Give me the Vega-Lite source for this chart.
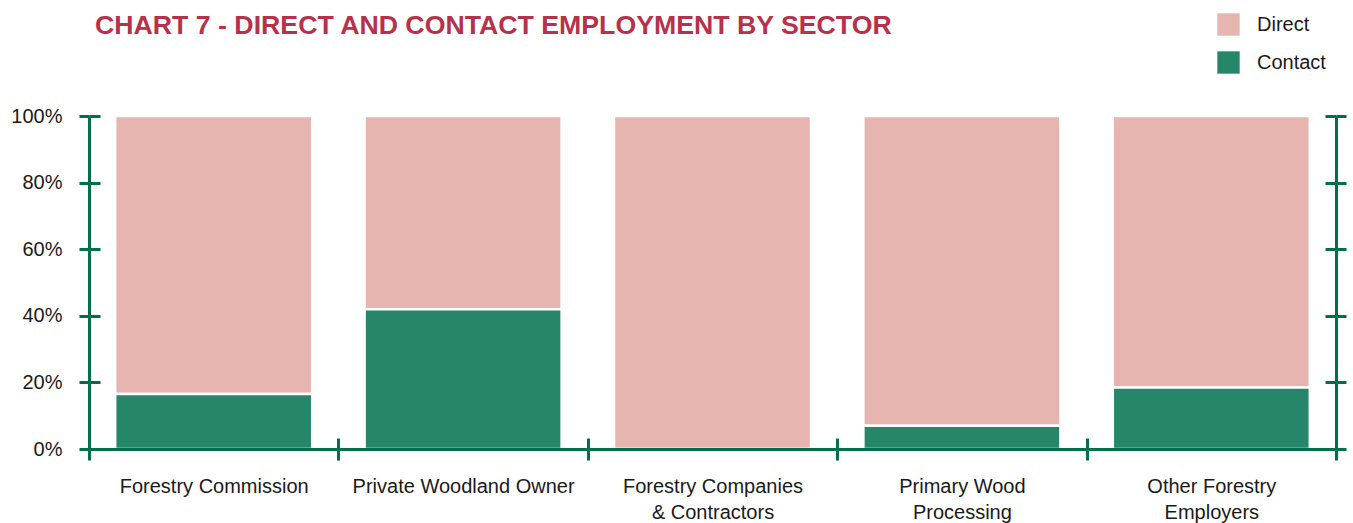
{
  "$schema": "https://vega.github.io/schema/vega-lite/v6.json",
  "autosize": "none",
  "padding": {"left": 89, "top": 116, "right": 17, "bottom": 74},
  "width": 1247,
  "height": 333,
  "background": "white",
  "title": {
    "text": "CHART 7 - DIRECT AND CONTACT EMPLOYMENT BY SECTOR",
    "anchor": "start",
    "frame": "group",
    "dx": 6,
    "dy": 25,
    "offset": -23,
    "baseline": "alphabetic",
    "font": "Liberation Sans",
    "fontSize": 26.7,
    "fontWeight": "bold",
    "color": "#b8314b"
  },
  "config": {
    "view": {"stroke": null},
    "axis": {
      "labelFont": "Liberation Sans",
      "labelFontSize": 20,
      "labelColor": "#1a1a1a",
      "labelLimit": 400,
      "domainColor": "#00704a",
      "tickColor": "#00704a",
      "domainWidth": 3,
      "tickWidth": 3,
      "grid": false,
      "title": null,
      "zindex": 1
    }
  },
  "data": {
    "values": [
      {"sector": "Forestry Commission", "type": "Direct", "share": 83.5},
      {"sector": "Forestry Commission", "type": "Contact", "share": 16.5},
      {"sector": "Private Woodland Owner", "type": "Direct", "share": 58},
      {"sector": "Private Woodland Owner", "type": "Contact", "share": 42},
      {"sector": "Forestry Companies|& Contractors", "type": "Direct", "share": 100},
      {"sector": "Forestry Companies|& Contractors", "type": "Contact", "share": 0},
      {"sector": "Primary Wood|Processing", "type": "Direct", "share": 93},
      {"sector": "Primary Wood|Processing", "type": "Contact", "share": 7},
      {"sector": "Other Forestry|Employers", "type": "Direct", "share": 81.5},
      {"sector": "Other Forestry|Employers", "type": "Contact", "share": 18.5}
    ]
  },
  "layer": [
    {
      "mark": {"type": "bar", "stroke": "white", "strokeWidth": 2.5, "width": {"band": 0.79}},
      "encoding": {
        "x": {
          "field": "sector", "type": "nominal",
          "sort": ["Forestry Commission", "Private Woodland Owner", "Forestry Companies|& Contractors", "Primary Wood|Processing", "Other Forestry|Employers"],
          "scale": {"paddingInner": 0, "paddingOuter": 0},
          "axis": {"orient": "bottom", "zindex": 2, "tickBand": "extent", "tickSize": 11, "labelAngle": 0, "labelPadding": 16, "labelLineHeight": 26, "labelExpr": "isValid(datum.value) ? split(datum.value, '|') : ''", "labelBaseline": "top"}
        },
        "y": {
          "field": "share", "type": "quantitative", "stack": "zero",
          "scale": {"domain": [0, 100], "nice": false},
          "axis": {"orient": "left", "zindex": 2, "values": [0, 20, 40, 60, 80, 100], "tickSize": 10, "labelPadding": 17, "labelExpr": "datum.value + '%'"}
        },
        "color": {
          "field": "type", "type": "nominal",
          "scale": {"domain": ["Direct", "Contact"], "range": ["#e6b5b0", "#25866a"]},
          "legend": {
            "title": null, "orient": "none", "legendX": 1128, "legendY": -103,
            "symbolType": "square", "symbolSize": 500, "symbolStrokeWidth": 0, "symbolOpacity": 1,
            "labelFont": "Liberation Sans", "labelFontSize": 20, "labelColor": "#1a1a1a", "labelOffset": 17, "rowPadding": 15
          }
        },
        "order": {"field": "type", "sort": "ascending"}
      }
    },
    {
      "mark": {"type": "bar", "opacity": 0, "width": {"band": 0.79}},
      "encoding": {
        "x": {"field": "sector", "type": "nominal", "sort": ["Forestry Commission", "Private Woodland Owner", "Forestry Companies|& Contractors", "Primary Wood|Processing", "Other Forestry|Employers"],
          "axis": {"orient": "bottom", "zindex": 2, "tickBand": "extent", "tickSize": -11, "labels": false, "domain": false}},
        "y": {"field": "share", "type": "quantitative", "stack": null,
          "axis": {"orient": "left", "zindex": 2, "values": [0, 20, 40, 60, 80, 100], "tickSize": -11, "labels": false, "domain": false}}
      }
    },
    {
      "mark": {"type": "bar", "opacity": 0, "width": {"band": 0.79}},
      "encoding": {
        "x": {"field": "sector", "type": "nominal", "sort": ["Forestry Commission", "Private Woodland Owner", "Forestry Companies|& Contractors", "Primary Wood|Processing", "Other Forestry|Employers"], "axis": null},
        "y": {"field": "share", "type": "quantitative", "stack": null,
          "axis": {"orient": "right", "zindex": 2, "values": [0, 20, 40, 60, 80, 100], "tickSize": 10, "labels": false, "domain": true}}
      }
    },
    {
      "mark": {"type": "bar", "opacity": 0, "width": {"band": 0.79}},
      "encoding": {
        "x": {"field": "sector", "type": "nominal", "sort": ["Forestry Commission", "Private Woodland Owner", "Forestry Companies|& Contractors", "Primary Wood|Processing", "Other Forestry|Employers"], "axis": null},
        "y": {"field": "share", "type": "quantitative", "stack": null,
          "axis": {"orient": "right", "zindex": 2, "values": [0, 20, 40, 60, 80, 100], "tickSize": -11, "labels": false, "domain": false}}
      }
    }
  ],
  "resolve": {"axis": {"x": "independent", "y": "independent"}}
}
